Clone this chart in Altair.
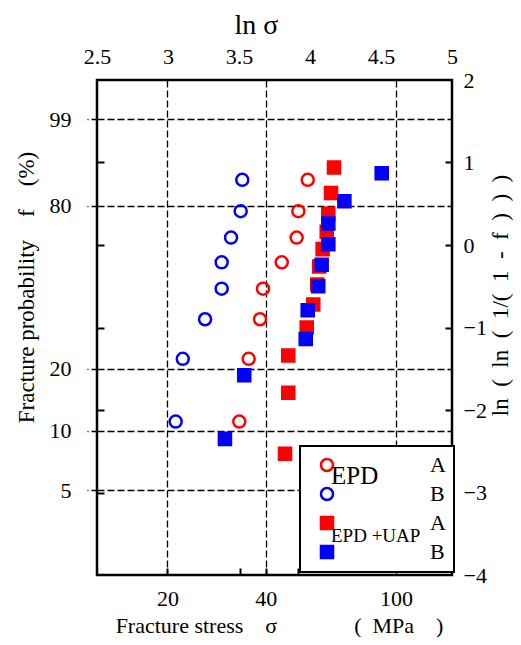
import math
import altair as alt
import pandas as pd

# ---- series ----
SERIES = ["EPD A", "EPD B", "EPD+UAP A", "EPD+UAP B"]
SHAPES = ["circle", "circle", "square", "square"]
STROKES = ["#ff0000", "#0000ff", "#ff0000", "#0000ff"]
FILLS = ["transparent", "transparent", "#ff0000", "#0000ff"]

epd_a_ln_sigma = [3.502, 3.568, 3.648, 3.669, 3.801, 3.906, 3.918, 3.984]
epd_b_ln_sigma = [3.054, 3.104, 3.261, 3.378, 3.378, 3.444, 3.512, 3.523]
epd_weibull = [-2.14, -1.38, -0.90, -0.53, -0.21, 0.09, 0.41, 0.79]

uap_a_ln_sigma = [3.824, 3.847, 3.847, 3.977, 4.023, 4.051, 4.065, 4.089, 4.118, 4.129, 4.148, 4.169]
uap_a_weibull = [-2.53, -1.79, -1.34, -1.00, -0.72, -0.48, -0.26, -0.05, 0.16, 0.38, 0.63, 0.94]

uap_b_ln_sigma = [3.401, 3.537, 3.970, 3.984, 4.058, 4.082, 4.129, 4.129, 4.242, 4.505]
uap_b_weibull = [-2.35, -1.58, -1.14, -0.79, -0.50, -0.24, 0.01, 0.26, 0.53, 0.87]

# ---- axis ticks ----
top_ticks = [2.5, 3, 3.5, 4, 4.5, 5]
right_ticks = [-4, -3, -2, -1, 0, 1, 2]
inner_y_ticks = [1, 0, -1, -2, -3]
stress_labels = [20, 40, 100]
stress_minor = [20, 33.3, 40, 50]
prob_labels = [99, 80, 20, 10, 5]

FONT = "Liberation Serif"
EN = "\u2002"

rows = []
for name, xs, ys in [
    ("EPD A", epd_a_ln_sigma, epd_weibull),
    ("EPD B", epd_b_ln_sigma, epd_weibull),
    ("EPD+UAP A", uap_a_ln_sigma, uap_a_weibull),
    ("EPD+UAP B", uap_b_ln_sigma, uap_b_weibull),
]:
    for xv, yv in zip(xs, ys):
        rows.append({"series": name, "ln_sigma": xv, "weibull": yv})
df = pd.DataFrame(rows)

x_scale = alt.Scale(domain=[2.5, 5], nice=False, zero=False)
y_scale = alt.Scale(domain=[-4, 2], nice=False, zero=False)

stress_vals = [math.log(s) for s in stress_labels]
stress_minor_vals = [math.log(s) for s in stress_minor]
prob_vals = [math.log(-math.log(1 - p / 100.0)) for p in prob_labels]

legend = alt.Legend(
    orient="none", legendX=203, legendY=366, title=None,
    labelExpr="slice(datum.label, -1)",
    labelFont=FONT, labelFontSize=22, labelColor="black",
    labelOffset=92, symbolOffset=8, padding=8, rowPadding=5,
    strokeColor="black", fillColor="white",
    symbolStrokeWidth=2.5, symbolSize=145, zindex=1,
)

base = alt.Chart(df)

right_title = "ln" + EN + "(" + EN + "ln" + EN + "(" + EN + "1/(" + EN + "1" + EN + "-" + EN + "f" + EN + ")" + EN + ")" + EN + ")"
bottom_title = "Fracture stress" + EN * 2 + "σ" + EN * 7 + "(" + EN + "MPa" + EN * 2 + ")"
left_title = "Fracture probability" + EN * 2 + "f" + EN * 2 + "(%)"

points = base.mark_point(size=145, strokeWidth=2.5, opacity=1).encode(
    x=alt.X("ln_sigma:Q", scale=x_scale, axis=alt.Axis(
        orient="top", values=top_ticks, format="~g", title="ln σ", grid=False,
        ticks=False, tickSize=0, domain=False, labelFlush=False, labelPadding=17,
        labelBaseline="alphabetic", titleX=159, titleY=-47, titleFontSize=28,
        titleBaseline="alphabetic", titleAlign="center", zindex=0)),
    y=alt.Y("weibull:Q", scale=y_scale, axis=alt.Axis(
        orient="right", values=right_ticks, title=right_title,
        grid=False, ticks=False, tickSize=0, domain=False, labelPadding=11,
        titleAngle=270, titleX=48, titleY=215, titleAlign="center",
        titleBaseline="middle", zindex=0)),
    shape=alt.Shape("series:N", scale=alt.Scale(domain=SERIES, range=SHAPES), legend=legend),
    fill=alt.Fill("series:N", scale=alt.Scale(domain=SERIES, range=FILLS), legend=legend),
    stroke=alt.Stroke("series:N", scale=alt.Scale(domain=SERIES, range=STROKES), legend=legend),
)

grid_layer = base.mark_point(opacity=0).encode(
    x=alt.X("ln_sigma:Q", scale=x_scale, axis=alt.Axis(
        orient="bottom", values=stress_vals, labelExpr="format(exp(datum.value), '.0f')",
        title=bottom_title, titleFontSize=22,
        grid=True, ticks=False, tickSize=0, domain=False, labelFlush=False,
        labelPadding=30, labelBaseline="alphabetic", titleX=182, titleY=57,
        titleBaseline="alphabetic", titleAlign="center", zindex=0)),
    y=alt.Y("weibull:Q", scale=y_scale, axis=alt.Axis(
        orient="left", values=prob_vals,
        labelExpr="format(100*(1-exp(-exp(datum.value))), '.0f')",
        title=left_title,
        grid=True, ticks=True, tickSize=10, tickWidth=1.3, tickDash=[6, 3],
        domain=False, labelPadding=16, titleAngle=270, titleX=-71, titleY=207,
        titleAlign="center", titleBaseline="middle", zindex=0)),
)

tick_layer = base.mark_point(opacity=0).encode(
    x=alt.X("ln_sigma:Q", scale=x_scale, axis=alt.Axis(
        orient="bottom", values=stress_minor_vals, labels=False, title=None,
        grid=False, domain=False, ticks=True, tickSize=7, tickWidth=2, offset=-7,
        zindex=0)),
    y=alt.Y("weibull:Q", scale=y_scale, axis=alt.Axis(
        orient="left", values=inner_y_ticks, labels=False, title=None,
        grid=False, domain=False, ticks=True, tickSize=7, tickWidth=2, offset=-7,
        zindex=0)),
)

tick_layer2 = base.mark_point(opacity=0).encode(
    x=alt.X("ln_sigma:Q", scale=x_scale, axis=None),
    y=alt.Y("weibull:Q", scale=y_scale, axis=alt.Axis(
        orient="right", values=inner_y_ticks, labels=False, title=None,
        grid=False, domain=False, ticks=True, tickSize=7, tickWidth=2, offset=-7,
        zindex=0)),
)

chart = alt.layer(points, grid_layer, tick_layer, tick_layer2).resolve_axis(
    x="independent", y="independent"
).properties(
    width=355, height=495,
    padding={"left": 89, "top": 72, "right": 61, "bottom": 62},
    autosize=alt.AutoSizeParams(type="none"),
    title=alt.TitleParams(
        text="EPD", subtitle="EPD +UAP", orient="top", anchor="start",
        frame="group", dx=234, dy=535, offset=0, font=FONT, fontSize=25,
        fontWeight="normal", color="black", subtitleFont=FONT,
        subtitleFontSize=19, subtitleColor="black", subtitlePadding=38,
        zindex=1),
).configure_view(
    stroke="black", strokeWidth=2.5
).configure_axis(
    labelFont=FONT, titleFont=FONT, labelFontSize=22, titleFontSize=23,
    titleFontWeight="normal", labelColor="black", titleColor="black",
    tickColor="black", gridColor="black", gridDash=[7, 3], gridWidth=1.3,
    gridOpacity=1,
).configure_legend(
    strokeWidth=2
)

chart.save("out.html", embed_options={"renderer": "svg", "actions": False})
